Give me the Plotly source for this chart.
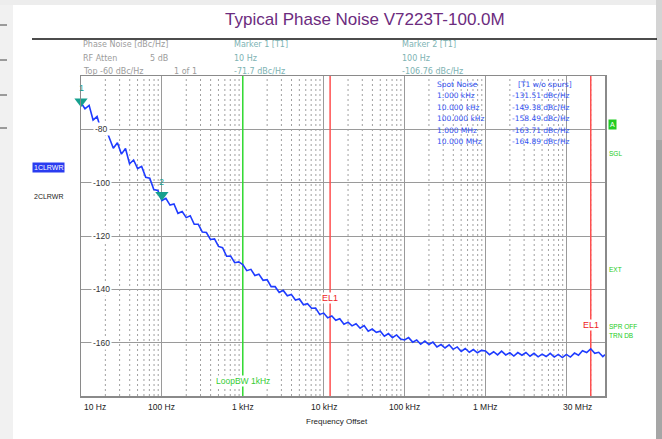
import numpy as np
import plotly.graph_objects as go

# ---------------- data ----------------
FREQ_HZ = [
    10, 11.2, 12.6, 14.1, 15.8, 17.8, 20, 22.4, 25.1, 28.2, 31.6, 35.5, 39.8, 44.7, 50.1, 56.2, 63.1, 70.8, 79.4, 89.1,
    100, 112, 126, 141, 158, 178, 200, 224, 251, 282, 316, 355, 398, 447, 501, 562, 631, 708, 794, 891,
    1000, 1120, 1260, 1410, 1580, 1780, 2000, 2240, 2510, 2820, 3160, 3550, 3980, 4470, 5010, 5620, 6310, 7080, 7940, 8910,
    10000, 11200, 12600, 14100, 15800, 17800, 20000, 22400, 25100, 28200, 31600, 35500, 39800, 44700, 50100, 56200, 63100, 70800, 79400, 89100,
    100000, 112000, 126000, 141000, 158000, 178000, 200000, 224000, 251000, 282000, 316000, 355000, 398000, 447000, 501000, 562000, 631000, 708000, 794000, 891000,
    1.0e6, 1.12e6, 1.26e6, 1.41e6, 1.58e6, 1.78e6, 2.0e6, 2.24e6, 2.51e6, 2.82e6, 3.16e6, 3.55e6, 3.98e6, 4.47e6, 5.01e6, 5.62e6, 6.31e6, 7.08e6, 7.94e6, 8.91e6,
    1.0e7, 1.12e7, 1.26e7, 1.41e7, 1.58e7, 1.78e7, 2.0e7, 2.24e7, 2.51e7, 2.82e7, 3.0e7,
]
PHASE_NOISE_DBC = [
    -70.0, -72.3, -71.0, -76.5, -75.2, -80.5, -79.3, -83.5, -87.1, -85.0, -89.3, -87.2, -92.9, -91.5, -94.7, -93.9, -98.0, -98.3, -102.6, -102.9,
    -106.7, -105.9, -108.4, -108.0, -111.5, -110.8, -113.1, -112.4, -115.6, -115.6, -118.5, -118.7, -121.3, -121.1, -123.9, -124.4, -127.6, -127.5, -130.0, -129.7,
    -130.7, -133.0, -132.5, -134.8, -134.3, -136.6, -136.4, -139.0, -139.0, -141.2, -140.4, -142.4, -141.9, -144.0, -143.6, -145.8, -145.4, -147.1, -147.0, -149.4,
    -148.9, -150.7, -150.0, -151.6, -151.0, -153.1, -152.3, -153.7, -152.9, -154.6, -153.6, -155.7, -154.9, -156.1, -155.7, -157.6, -156.6, -158.1, -157.1, -158.6,
    -159.0, -158.1, -159.8, -159.0, -160.6, -159.4, -160.7, -159.8, -161.6, -160.7, -162.0, -160.8, -162.5, -161.6, -163.3, -162.2, -163.6, -162.6, -163.8, -162.9,
    -163.1, -164.5, -163.4, -164.6, -163.2, -164.6, -163.8, -165.0, -163.7, -164.7, -163.7, -165.1, -164.0, -165.3, -164.3, -165.2, -164.0, -165.4, -164.4, -165.6,
    -164.4, -165.4, -163.9, -164.7, -163.0, -163.7, -162.3, -164.0, -163.6, -165.2, -164.5,
]
MARKER_FREQ_HZ = [10, 100]
MARKER_DBC = [-71.7, -106.76]
MARKER_NAMES = ["1", "2"]
SPOT_FREQ_LABELS = ["1.000 kHz", "10.000 kHz", "100.000 kHz", "1.000 MHz", "10.000 MHz"]
SPOT_DBC = [-131.51, -149.38, -158.49, -163.71, -164.89]
LIMIT_FREQ_HZ = [12e3, 20e6]
LOOP_BW_HZ = 1e3
X_TICK_HZ = [10, 100, 1e3, 1e4, 1e5, 1e6, 3e7]
X_TICK_TEXT = ["10 Hz", "100 Hz", "1 kHz", "10 kHz", "100 kHz", "1 MHz", "30 MHz"]
Y_TICKS = [-80, -100, -120, -140, -160]
Y_RANGE = [-180, -60]
X_RANGE_HZ = [10, 3e7]

# ---------------- layout helpers ----------------
W, H = 662, 439
PL, PR, PT, PB = 81, 605, 76, 396
def pxx(x):
    return (x - PL) / (PR - PL)
def pyy(y):
    return (PB - y) / (PB - PT)

FONT = "Liberation Sans, Arial, sans-serif"
DFONT = "DejaVu Sans, Verdana, sans-serif"

ann = []
def note(x, y, text, size, color, family=FONT, xref="paper", yref="paper", xanchor="center",
         yanchor="middle", **kw):
    d = dict(x=x, y=y, xref=xref, yref=yref, text=text, showarrow=False,
             xanchor=xanchor, yanchor=yanchor, font=dict(family=family, size=size, color=color))
    d.update(kw)
    ann.append(d)

fig = go.Figure()

# minor dotted grid (2..9 of each decade)
gx, gy = [], []
for d in range(1, 8):
    for m in range(2, 10):
        f = m * 10 ** d
        if f >= X_RANGE_HZ[1]:
            break
        gx += [f, f, None]
        gy += [Y_RANGE[0], Y_RANGE[1], None]
fig.add_trace(go.Scatter(x=gx, y=gy, mode="lines", hoverinfo="skip",
                         line=dict(color="#a0a0a0", width=1, dash="2px,3px")))

# loop bandwidth line (green) and limit lines (red)
fig.add_trace(go.Scatter(x=[LOOP_BW_HZ, LOOP_BW_HZ], y=Y_RANGE, mode="lines", hoverinfo="skip",
                         line=dict(color="#33dd33", width=1.5)))
lx, ly = [], []
for f in LIMIT_FREQ_HZ:
    lx += [f, f, None]
    ly += [Y_RANGE[0], Y_RANGE[1], None]
fig.add_trace(go.Scatter(x=lx, y=ly, mode="lines", hoverinfo="skip",
                         line=dict(color="#ff5050", width=1.5)))

# phase noise trace
fig.add_trace(go.Scatter(x=FREQ_HZ, y=PHASE_NOISE_DBC, mode="lines", hoverinfo="skip",
                         line=dict(color="#1f3cff", width=1.6)))

# marker triangles (tip at marker value)
TRI_SIZE = 11.5
tri_off_db = (TRI_SIZE / 2) * (Y_RANGE[1] - Y_RANGE[0]) / (PB - PT)
fig.add_trace(go.Scatter(x=MARKER_FREQ_HZ, y=[v + tri_off_db for v in MARKER_DBC], mode="markers",
                         cliponaxis=False, hoverinfo="skip",
                         marker=dict(symbol="triangle-down", size=TRI_SIZE, color="#16a08e",
                                     line=dict(width=0))))

# marker numbers
for f, v, n in zip(MARKER_FREQ_HZ, MARKER_DBC, MARKER_NAMES):
    note(np.log10(f), v, n, 9, "#16a08e", xref="x", yref="y", yshift=19)

# y labels inside the plot
for t in Y_TICKS:
    note(pxx(101), t, str(t), 8.5, "#333", yref="y", bgcolor="white", borderpad=1)

# x tick labels
for f, t in zip(X_TICK_HZ, X_TICK_TEXT):
    if f == X_TICK_HZ[0]:
        note(np.log10(f), pyy(407), t, 8.5, "#222", xref="x", xanchor="left", xshift=1)
    elif f == X_TICK_HZ[-1]:
        note(np.log10(f), pyy(407), t, 8.5, "#222", xref="x", xanchor="right", xshift=-11)
    else:
        note(np.log10(f), pyy(407), t, 8.5, "#222", xref="x")
note(pxx(337), pyy(421), "Frequency Offset", 8, "#222")

# limit line and loop bw labels
note(np.log10(LIMIT_FREQ_HZ[0]), pyy(298), "EL1", 9, "#ee2222", xref="x", bgcolor="white", borderpad=0)
note(np.log10(LIMIT_FREQ_HZ[1]), pyy(325), "EL1", 9, "#ee2222", xref="x", bgcolor="white", borderpad=0)
note(np.log10(LOOP_BW_HZ), pyy(381), "LoopBW 1kHz", 8.5, "#33cc33", xref="x", bgcolor="white", borderpad=0)

# header
GRAY = "#9c9c9c"
TEAL = "#7db3b3"
hdr = [
    (81, 45, "Phase Noise [dBc/Hz]", GRAY), (81, 59, "RF Atten", GRAY), (148, 59, "5 dB", GRAY),
    (81, 71, "Top -60 dBc/Hz", GRAY), (172, 71, "1 of 1", GRAY),
    (232, 45, "Marker 1 [T1]", TEAL), (232, 59, "10 Hz", TEAL), (232, 71, "%.1f dBc/Hz" % MARKER_DBC[0], TEAL),
    (400, 45, "Marker 2 [T1]", TEAL), (400, 59, "100 Hz", TEAL), (400, 71, "%.2f dBc/Hz" % MARKER_DBC[1], TEAL),
]
for x, y, t, c in hdr:
    note(pxx(x), pyy(y), t, 8, c, family=DFONT, xanchor="left")

# spot noise table
BLUE = "#3050f0"
ROW0, DROW = 84, 11.5
note(pxx(435), pyy(ROW0), "Spot Noise", 7.5, BLUE, family=DFONT, xanchor="left")
note(pxx(516), pyy(ROW0), "[T1 w/o spurs]", 7.5, BLUE, family=DFONT, xanchor="left")
for i, (lab, v) in enumerate(zip(SPOT_FREQ_LABELS, SPOT_DBC)):
    yy = ROW0 + DROW * (i + 1)
    note(pxx(435), pyy(yy), lab, 7.5, BLUE, family=DFONT, xanchor="left")
    note(pxx(510), pyy(yy), "%.2f dBc/Hz" % v, 7.5, BLUE, family=DFONT, xanchor="left")

# left trace labels
note(pxx(32), pyy(167), "1CLRWR", 7, "white", xanchor="left", bgcolor="#2a3cf0", borderpad=1)
note(pxx(32), pyy(196), "2CLRWR", 7, "#222", xanchor="left")

# right status labels
GREEN = "#22cc22"
note(pxx(608), pyy(125), "A", 7, "white", xanchor="left", bgcolor=GREEN, borderpad=1)
for y, t in [(153, "SGL"), (269, "EXT"), (326, "SPR OFF"), (335, "TRN DB")]:
    note(pxx(607), pyy(y), t, 6.5, GREEN, xanchor="left")

# title
note(pxx(365), pyy(20), "Typical Phase Noise V7223T-100.0M", 17, "#6c2b7e")

# background decorations
shapes = [
    dict(type="rect", xref="paper", yref="paper", x0=pxx(0), x1=pxx(13), y0=pyy(H), y1=pyy(0),
         fillcolor="#f1f1f1", line=dict(width=0), layer="below"),
    dict(type="rect", xref="paper", yref="paper", x0=pxx(0), x1=pxx(W), y0=pyy(5), y1=pyy(0),
         fillcolor="#ededed", line=dict(width=0), layer="below"),
    dict(type="rect", xref="paper", yref="paper", x0=pxx(656), x1=pxx(W), y0=pyy(60), y1=pyy(0),
         fillcolor="#d4d4d4", line=dict(width=0), layer="below"),
    dict(type="rect", xref="paper", yref="paper", x0=pxx(656), x1=pxx(W), y0=pyy(140), y1=pyy(60),
         fillcolor="#b8b8b8", line=dict(width=0), layer="below"),
    dict(type="rect", xref="paper", yref="paper", x0=pxx(656), x1=pxx(W), y0=pyy(H), y1=pyy(140),
         fillcolor="#a6a6a6", line=dict(width=0), layer="below"),
    dict(type="line", xref="paper", yref="paper", x0=pxx(32), x1=pxx(657), y0=pyy(39), y1=pyy(39),
         line=dict(color="#111", width=1.5)),
]
for y in [25, 60, 95, 128]:
    shapes.append(dict(type="line", xref="paper", yref="paper", x0=pxx(0), x1=pxx(7), y0=pyy(y), y1=pyy(y),
                       line=dict(color="#444", width=1)))

fig.update_layout(
    width=W, height=H, autosize=False,
    margin=dict(l=PL, r=W - PR, t=PT, b=H - PB, pad=0),
    paper_bgcolor="white", plot_bgcolor="white",
    showlegend=False, hovermode=False,
    annotations=ann, shapes=shapes,
    xaxis=dict(type="log", range=[np.log10(X_RANGE_HZ[0]), np.log10(X_RANGE_HZ[1])],
               tickvals=[100, 1e3, 1e4, 1e5, 1e6, 1e7], showticklabels=False, ticks="",
               showgrid=True, gridcolor="#9a9a9a", gridwidth=1, zeroline=False,
               showline=True, mirror=True, linecolor="#8a8a8a", linewidth=1.5),
    yaxis=dict(range=Y_RANGE, tickvals=Y_TICKS, showticklabels=False, ticks="",
               showgrid=True, gridcolor="#9a9a9a", gridwidth=1, zeroline=False,
               showline=True, mirror=True, linecolor="#8a8a8a", linewidth=1.5),
)

fig.write_html("out.html", config={"displayModeBar": False, "staticPlot": True},
               post_script="document.body.style.margin='0px';document.body.style.overflow='hidden';")
